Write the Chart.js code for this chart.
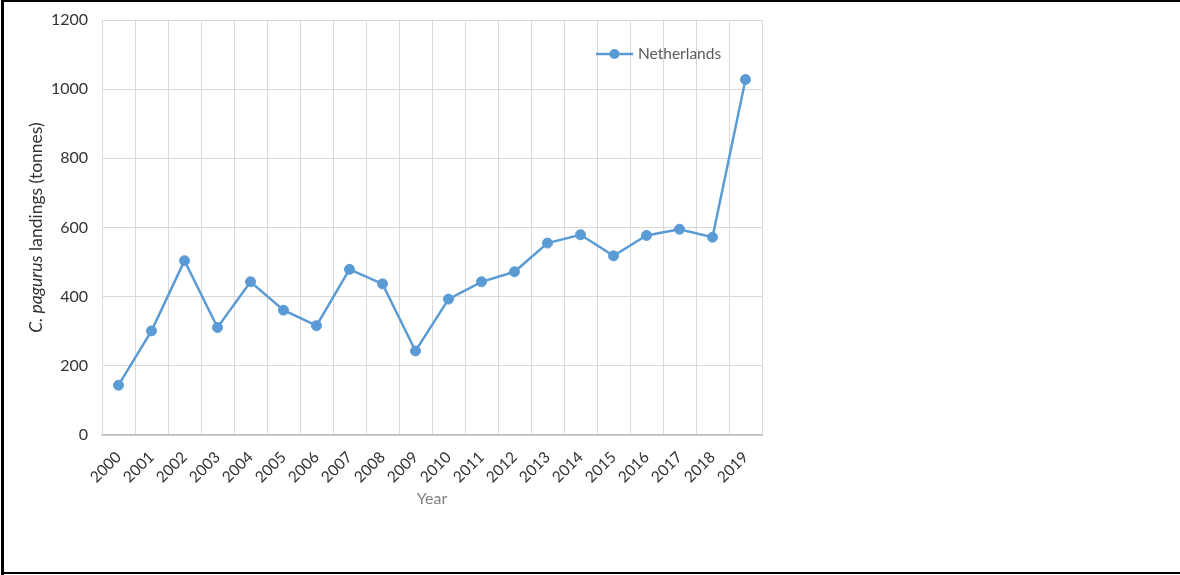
<!DOCTYPE html>
<html lang="en">
<head>
    <meta charset="UTF-8">
    <title>C. pagurus landings - Netherlands</title>
    <style>
        html, body {
            margin: 0;
            padding: 0;
            background: #fff;
        }
        #wrap {
            position: relative;
            width: 1180px;
            height: 575px;
        }
    </style>
    <script src="https://cdn.jsdelivr.net/npm/chart.js"></script>
</head>
<body>

<div id="wrap">
    <canvas id="landingsChart" width="1180" height="575"></canvas>
</div>

<script>
    // Landings per year (tonnes)
    const years = ['2000', '2001', '2002', '2003', '2004', '2005', '2006', '2007', '2008', '2009',
                   '2010', '2011', '2012', '2013', '2014', '2015', '2016', '2017', '2018', '2019'];
    const netherlands = [144, 301, 504, 311, 443, 361, 316, 479, 437, 243,
                         393, 443, 472, 555, 579, 518, 577, 595, 572, 1028];
    const yTicks = [0, 200, 400, 600, 800, 1000, 1200];

    const FONT = 'Lato, "Open Sans", sans-serif';
    const BLUE = '#5B9BD5';

    // Extra drawing: frame, rotated y title with italic species name, x title, legend
    const decorations = {
        id: 'decorations',
        afterDraw(chart) {
            const ctx = chart.ctx;
            const area = chart.chartArea;
            ctx.save();

            // frame (left, top, bottom)
            ctx.fillStyle = '#000';
            ctx.fillRect(1, 0, 3, 575);
            ctx.fillRect(1, 0, 1179, 2);
            ctx.fillRect(1, 572, 1179, 2);

            // y axis title
            ctx.translate(36, (area.top + area.bottom) / 2);
            ctx.rotate(-Math.PI / 2);
            ctx.fillStyle = '#333333';
            ctx.textBaseline = 'middle';
            ctx.textAlign = 'left';
            const italic = 'italic 17.5px ' + FONT;
            const normal = '17.5px ' + FONT;
            const part1 = 'C. pagurus';
            const part2 = ' landings (tonnes)';
            ctx.font = italic;
            const w1 = ctx.measureText(part1).width;
            ctx.font = normal;
            const w2 = ctx.measureText(part2).width;
            let x0 = -(w1 + w2) / 2;
            ctx.font = italic;
            ctx.fillText(part1, x0, 0);
            ctx.font = normal;
            ctx.fillText(part2, x0 + w1, 0);
            ctx.setTransform(1, 0, 0, 1, 0, 0);

            // x axis title
            ctx.fillStyle = '#7f7f7f';
            ctx.font = '16px ' + FONT;
            ctx.textAlign = 'center';
            ctx.fillText('Year', (area.left + area.right) / 2, 499);

            // legend
            const ly = 54;
            ctx.strokeStyle = BLUE;
            ctx.lineWidth = 2.5;
            ctx.beginPath();
            ctx.moveTo(596, ly);
            ctx.lineTo(633, ly);
            ctx.stroke();
            ctx.fillStyle = BLUE;
            ctx.beginPath();
            ctx.arc(614.5, ly, 5, 0, Math.PI * 2);
            ctx.fill();
            ctx.fillStyle = '#595959';
            ctx.font = '15.5px ' + FONT;
            ctx.textAlign = 'left';
            ctx.fillText('Netherlands', 638, ly);

            ctx.restore();
        }
    };

    const ctx = document.getElementById('landingsChart').getContext('2d');
    const landingsChart = new Chart(ctx, {
        type: 'line',
        data: {
            labels: years,
            datasets: [{
                label: 'Netherlands',
                data: netherlands,
                borderColor: BLUE,
                backgroundColor: BLUE,
                borderWidth: 2.5,
                pointRadius: 5,
                pointBackgroundColor: BLUE,
                pointBorderColor: BLUE,
                pointBorderWidth: 1,
                tension: 0,
                fill: false
            }]
        },
        options: {
            responsive: false,
            animation: false,
            layout: {
                padding: { left: 0, top: 20, right: 418, bottom: 0 }
            },
            plugins: {
                legend: { display: false },
                tooltip: { enabled: false }
            },
            scales: {
                x: {
                    offset: true,
                    grid: {
                        offset: true,
                        color: '#d9d9d9',
                        lineWidth: 1,
                        drawTicks: false
                    },
                    border: { color: '#bfbfbf', width: 1.5 },
                    ticks: {
                        autoSkip: false,
                        minRotation: 45,
                        maxRotation: 45,
                        padding: 13,
                        color: '#333333',
                        font: { family: FONT, size: 15.5 }
                    },
                    afterFit(scale) {
                        scale.height = 140;
                        scale.paddingLeft = 0;
                        scale.paddingRight = 0;
                    }
                },
                y: {
                    min: 0,
                    max: 1200,
                    afterBuildTicks(scale) {
                        scale.ticks = yTicks.map(v => ({ value: v }));
                    },
                    grid: {
                        color: '#d9d9d9',
                        lineWidth: 1,
                        drawTicks: false
                    },
                    border: { color: '#d9d9d9' },
                    ticks: {
                        padding: 14,
                        color: '#333333',
                        font: { family: FONT, size: 16 },
                        callback: v => String(v)
                    },
                    afterFit(scale) {
                        scale.width = 102;
                        scale.paddingTop = 0;
                        scale.paddingBottom = 0;
                    }
                }
            }
        },
        plugins: [decorations]
    });
</script>

</body>
</html>
